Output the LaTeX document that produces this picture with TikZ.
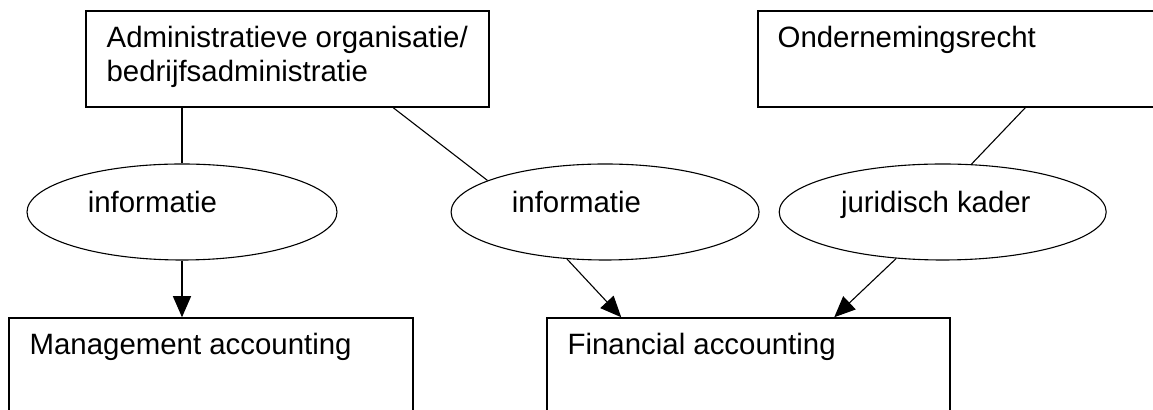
\documentclass[tikz,border=0pt]{standalone}
\usepackage{fontspec}
\setmainfont{Liberation Sans}
\usetikzlibrary{positioning,shapes.geometric,arrows.meta}

\begin{document}
\begin{tikzpicture}[x=0.5pt, y=-0.5pt,
    box/.style={draw, line width=0.75pt, minimum height=48pt, inner sep=0pt},
    bubble/.style={draw, ellipse, line width=0.55pt, minimum width=155pt, minimum height=48pt, inner sep=0pt},
    txt/.style={anchor=base west, inner sep=0pt, font=\fontsize{14.7pt}{17.5pt}\selectfont},
    link/.style={line width=0.55pt},
    arrowlink/.style={-{Triangle[length=10.5pt,width=9pt]}, line width=0.55pt}]
  \useasboundingbox (0,0) rectangle (1153,410);
  \clip (0,0) rectangle (1153,410);

  % nodes
  \node[box, minimum width=201.5pt] (admin) at (287.5,59) {};
  \node[box, minimum width=211pt] (recht) at (969,59) {};
  \node[bubble] (info1) at (182,212) {};
  \node[bubble, minimum width=154pt, right=56.5pt of info1] (info2) {};
  \node[bubble, minimum width=163.5pt, right=9.5pt of info2] (kader) {};
  \node[box, minimum width=202pt, minimum height=61pt] (mac) at (211,379) {};
  \node[box, minimum width=201.5pt, minimum height=61pt] (fac) at (748.5,379) {};

  % texts
  \node[txt] (tadmin) at ([shift={(10.5pt,-18.5pt)}]admin.north west) {Administratieve organisatie/};
  \node[txt] (tadmin2) at ([yshift=-17pt]tadmin.base west) {bedrijfsadministratie};
  \node[txt] (trecht) at ([shift={(10pt,-18.5pt)}]recht.north west) {Ondernemingsrecht};
  \node[txt] (tinfo1) at ([shift={(30.5pt,-0.5pt)}]info1.west) {informatie};
  \node[txt] (tinfo2) at ([shift={(30.5pt,-0.5pt)}]info2.west) {informatie};
  \node[txt] (tkader) at ([shift={(31pt,-0.5pt)}]kader.west) {juridisch kader};
  \node[txt] (tmac) at ([shift={(10.5pt,-18.5pt)}]mac.north west) {Management accounting};
  \node[txt] (tfac) at ([shift={(10.5pt,-18.5pt)}]fac.north west) {Financial accounting};

  % edges
  \draw[link] (admin.south -| info1.north) -- (info1.north);
  \draw[link] ([xshift=154pt]admin.south west) -- (info2.165);
  \draw[link] ([xshift=134pt]recht.south west) -- (kader.59);
  \draw[arrowlink] (info1.south) -- (info1.south |- mac.north);
  \draw[arrowlink] (info2.231) -- ([xshift=37.5pt]fac.north west);
  \draw[arrowlink] (kader.225) -- ([xshift=144pt]fac.north west);
\end{tikzpicture}
\end{document}
